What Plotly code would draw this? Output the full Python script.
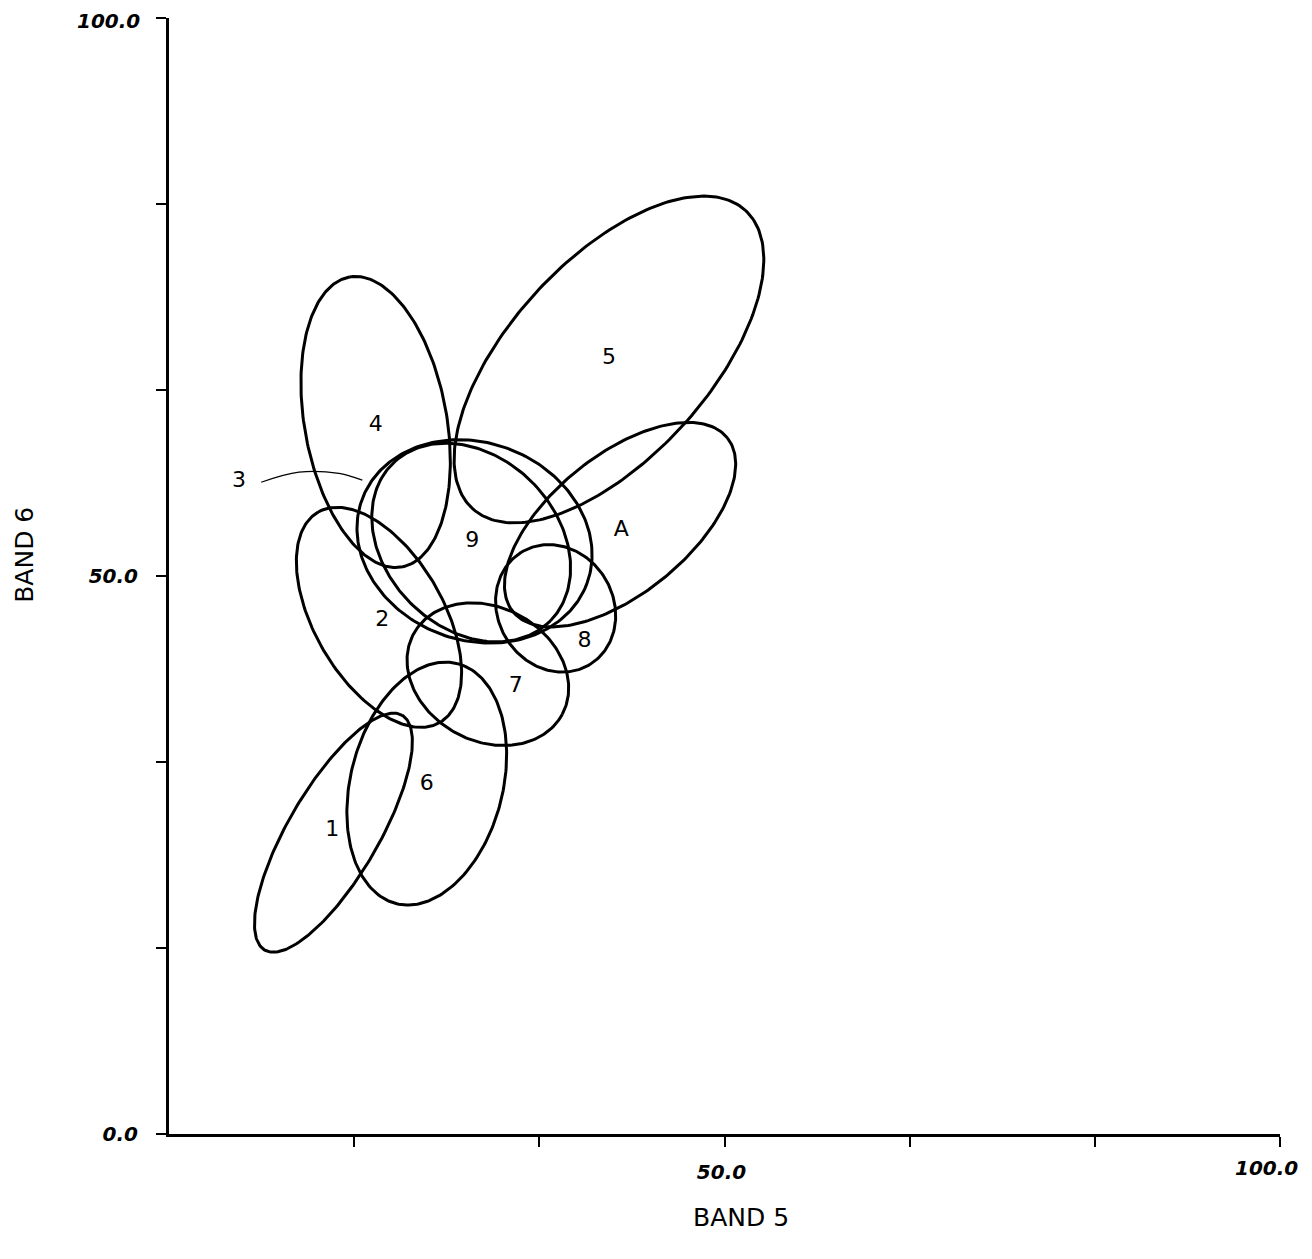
import numpy as np
import plotly.graph_objects as go

# Ellipse parameters (data units: BAND 5 / BAND 6)
names   = ["1", "2", "3", "4", "5", "6", "7", "8", "9", "A"]
cx      = [14.8, 18.9, 27.5, 18.6, 39.6, 23.2, 28.7, 34.8, 27.2, 40.6]
cy      = [27.0, 46.3, 53.1, 63.8, 69.4, 31.4, 41.2, 47.1, 53.0, 54.6]
semi_a  = [12.2, 10.9, 10.8, 13.2, 18.15, 11.1, 7.6, 5.9, 10.0, 12.4]
semi_b  = [4.05, 5.8, 8.85, 6.4, 8.9, 6.85, 6.0, 5.2, 7.7, 6.2]
angle   = [59.5, 120.3, -20.5, 100.3, 47.3, 75.5, -28.1, 122.0, -44.4, 38.9]

# Label positions
label_text = ["1", "2", "3", "4", "5", "6", "7", "8", "9", "A"]
label_x    = [14.7, 19.2, 6.3, 18.6, 39.6, 23.2, 31.2, 37.4, 27.3, 40.7]
label_y    = [27.2, 46.0, 58.5, 63.5, 69.5, 31.3, 40.1, 44.1, 53.1, 54.1]

# Leader line from label "3" to its ellipse
lead_x = [8.3, 11.7, 15.3, 16.8, 17.4]
lead_y = [58.4, 59.3, 59.2, 58.8, 58.6]

tick_vals_x = [100/6, 200/6, 50, 400/6, 500/6, 100]
tick_text_x = ["", "", "50.0", "", "", ""]
tick_vals_y = [0, 100/6, 200/6, 50, 400/6, 500/6, 100]
tick_text_y = ["0.0", "", "", "50.0", "", "", ""]
end_label = "100.0"

fig = go.Figure()
t = np.linspace(0, 2*np.pi, 240)
for i in range(len(names)):
    th = np.deg2rad(angle[i])
    xs = cx[i] + semi_a[i]*np.cos(th)*np.cos(t) - semi_b[i]*np.sin(th)*np.sin(t)
    ys = cy[i] + semi_a[i]*np.sin(th)*np.cos(t) + semi_b[i]*np.cos(th)*np.sin(t)
    fig.add_trace(go.Scatter(x=xs, y=ys, mode="lines",
                             line=dict(color="black", width=3),
                             showlegend=False, hoverinfo="skip"))

fig.add_trace(go.Scatter(x=lead_x, y=lead_y, mode="lines",
                         line=dict(color="black", width=1.3, shape="spline"),
                         showlegend=False, hoverinfo="skip"))

fig.add_trace(go.Scatter(x=label_x, y=label_y, mode="text", text=label_text,
                         textfont=dict(family="DejaVu Sans", size=22, color="black"),
                         showlegend=False, hoverinfo="skip"))

tickfont = dict(family="DejaVu Sans", size=20, color="black", weight="bold", style="italic")

fig.update_layout(
    width=1296, height=1243,
    margin=dict(l=161, r=24, t=10, b=117),
    plot_bgcolor="white", paper_bgcolor="white",
    xaxis=dict(range=[0, 100], showgrid=False, zeroline=False, automargin=False,
               showline=True, linecolor="black", linewidth=3,
               ticks="outside", ticklen=10, tickwidth=2, tickcolor="black",
               tickvals=tick_vals_x, ticktext=tick_text_x, ticklabeloverflow="allow",
               ticklabelshift=-3,
               tickfont=tickfont, ticklabelstandoff=8),
    yaxis=dict(range=[0, 100], showgrid=False, zeroline=False, automargin=False,
               showline=True, linecolor="black", linewidth=3,
               ticks="outside", ticklen=10, tickwidth=2, tickcolor="black",
               tickvals=tick_vals_y, ticktext=tick_text_y, ticklabeloverflow="allow",
               tickfont=tickfont, ticklabelstandoff=14),
    annotations=[
        dict(text=end_label, xref="paper", yref="paper", x=1, y=0,
             xshift=-14, yshift=-34, showarrow=False, font=tickfont,
             xanchor="center", yanchor="middle"),
        dict(text=end_label, xref="paper", yref="paper", x=0, y=1,
             xshift=-27, yshift=-3, showarrow=False, font=tickfont,
             xanchor="right", yanchor="middle"),
        dict(text="BAND 5", xref="paper", yref="paper", x=(741-169)/1111, y=-0.0744,
             showarrow=False, font=dict(family="DejaVu Sans", size=25, color="black"),
             xanchor="center", yanchor="middle"),
        dict(text="BAND 6", xref="paper", yref="paper", x=(25-169)/1111, y=0.519,
             showarrow=False, textangle=-90,
             font=dict(family="DejaVu Sans", size=25, color="black"),
             xanchor="center", yanchor="middle"),
    ],
)

fig.write_html("out.html")
